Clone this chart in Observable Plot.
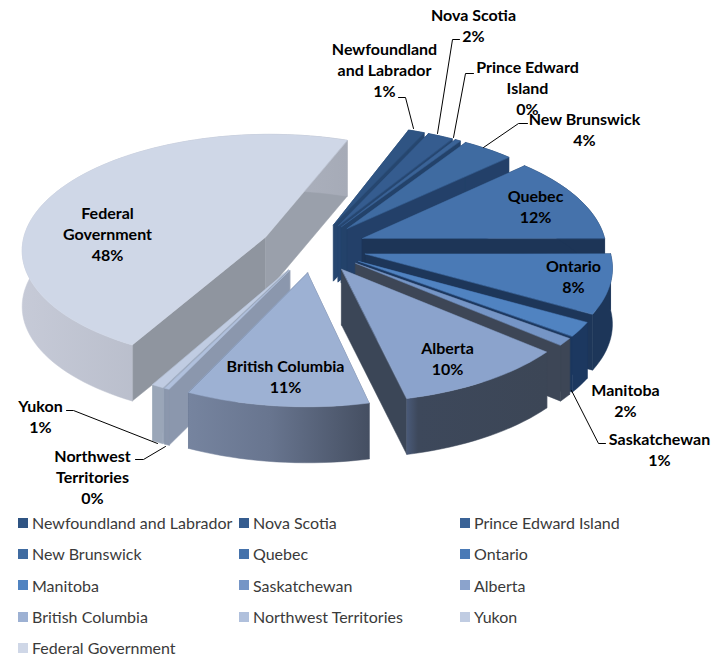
<!DOCTYPE html>
<html><head><meta charset="utf-8">
<script src="https://cdn.jsdelivr.net/npm/d3@7"></script>
<script src="https://cdn.jsdelivr.net/npm/@observablehq/plot@0.6"></script>
<style>
html,body{margin:0;padding:0;background:#fff;overflow:hidden}
#legend{display:grid;grid-template-columns:221px 221px 221px;padding-left:18px;font:16px Lato,sans-serif;color:#3a3a3a}
#legend div{height:31.3px;display:flex;align-items:center;white-space:nowrap}
#legend i{display:inline-block;width:10px;height:10px;margin-right:4px;flex:none}
</style></head><body>
<div id="chart"></div><div id="legend"></div>
<script>
const regions=["Newfoundland and Labrador","Nova Scotia","Prince Edward Island","New Brunswick","Quebec","Ontario","Manitoba","Saskatchewan","Alberta","British Columbia","Northwest Territories","Yukon","Federal Government"];
const shares=[1.2,1.9,0.4,3.8,12,8.2,2,1,10.2,10.7,0.3,0.7,47.6];
const topColors=["#2f5483","#355c8f","#3a6397","#3f6ba1","#4572ab","#4a7ab6","#5083c1","#7595c6","#8ba3cc","#9db1d3","#b0c0dc","#c0cce2","#cfd7e7"];
const wallColors=["#26466f","#264670","#23426a","#234069","#1d3557","#1d3659","#1c3860","#3d4656","#3b4657","#5d6a84","#8b97ad","#9aa6b8","#999fab"];
const labelNames=["Newfoundland\nand Labrador","Nova Scotia","Prince Edward\nIsland","New Brunswick","Quebec","Ontario","Manitoba","Saskatchewan","Alberta","British Columbia","Northwest\nTerritories","Yukon","Federal\nGovernment"];
const labelAnchors=[[384,69],[473,24],[527,87],[584,128],[535,205],[573,275],[625,399],[659,448],[447,357],[285,375],[92,476],[40,415],[107,233]];
const leaders=[[[413,128],[405,97],[398,97]],[[437,133],[452,39],[459,39]],[[453,137],[465,73],[473,73]],[[483,147],[518,123],[527,123]],[[571,390],[598,443],[605,443]],[[157,443],[73,410],[66,410]],[[165,446],[143,459],[135,459]]];
const drawOrder=[12,11,10,9,0,1,2,3,4,5,6,7,8];

const W=717,H=507;
const x0=313,y0=247,A=244,B=115,p=0.10,explode=0.218,depth=56,start=20.5;
const rad=d=>d*Math.PI/180;
const proj=(X,Y,drop=0)=>{const s=1/(1-p*Y);return {x:x0+A*X*s,y:y0+B*Y*s+drop};};
let acc=start;
const slices=shares.map((v,i)=>{const a0=acc,a1=acc+v*3.6;acc=a1;const m=rad((a0+a1)/2);
  return {i,a0,a1,ox:explode*Math.sin(m),oy:-explode*Math.cos(m)};});
const rim=(s,a,drop=0)=>proj(s.ox+Math.sin(rad(a)),s.oy-Math.cos(rad(a)),drop);
const apex=(s,drop=0)=>proj(s.ox,s.oy,drop);
const arc=(s,a0,a1,drop=0)=>{const n=Math.max(2,Math.ceil(Math.abs(a1-a0)/2));return d3.range(n+1).map(k=>rim(s,a0+(a1-a0)*k/n,drop));};
const poly=(pts,fill)=>Plot.line(pts,{x:"x",y:"y",curve:"linear-closed",fill,stroke:fill,strokeWidth:0.5});
const grads={
 g12:[["0%","#c6cad7"],["55%","#b3b8c6"],["100%","#a6abb7"]],
 g9:[["0%","#76849f"],["45%","#68758f"],["100%","#454f62"]],
 g8:[["0%","#4a5a78"],["8%","#3d485b"],["100%","#3c4656"]]
};
const defs=()=>{const s=d3.create("svg:g");const d=s.append("defs");
 for(const [id,st] of Object.entries(grads)){const g=d.append("linearGradient").attr("id",id);st.forEach(([o,c])=>g.append("stop").attr("offset",o).attr("stop-color",c));}
 return s.node();};
const marks=[defs];
for(const i of drawOrder){const s=slices[i];const wall=wallColors[i];
 const w0=[apex(s),rim(s,s.a0),rim(s,s.a0,depth),apex(s,depth)];
 const w1=[apex(s),rim(s,s.a1),rim(s,s.a1,depth),apex(s,depth)];
 const vis0=Math.sin(rad(s.a0))<0,vis1=Math.sin(rad(s.a1))>0;
 if(!vis0)marks.push(poly(w0,wall));
 if(!vis1)marks.push(poly(w1,wall));
 if(vis0)marks.push(poly(w0,i===12?"#8f959f":wall));
 if(vis1)marks.push(poly(w1,i===12?"#9aa0ab":wall));
 const outer=[...arc(s,s.a0,s.a1),...arc(s,s.a1,s.a0,depth)];
 marks.push(poly(outer,grads["g"+i]?`url(#g${i})`:wall));
 marks.push(poly([apex(s),...arc(s,s.a0,s.a1)],topColors[i]));
}
for(const l of leaders)marks.push(Plot.line(l.map(([x,y])=>({x,y})),{x:"x",y:"y",stroke:"#000",strokeWidth:1}));
const labels=regions.map((r,i)=>({t:labelNames[i]+"\n"+Math.round(shares[i])+"%",x:labelAnchors[i][0],y:labelAnchors[i][1]}));
marks.push(Plot.text(labels,{x:"x",y:"y",text:"t",fill:"#000",fontSize:16,fontWeight:700,fontFamily:"Lato, sans-serif",lineHeight:1.3,lineAnchor:"middle",textAnchor:"middle"}));
document.getElementById("chart").append(Plot.plot({width:W,height:H,margin:0,x:{domain:[0,W],range:[0,W],axis:null},y:{domain:[0,H],range:[0,H],axis:null},marks}));
const lg=d3.select("#legend");
regions.forEach((r,i)=>{const d=lg.append("div");d.append("i").style("background",topColors[i]);d.append("span").text(r);});
</script></body></html>
